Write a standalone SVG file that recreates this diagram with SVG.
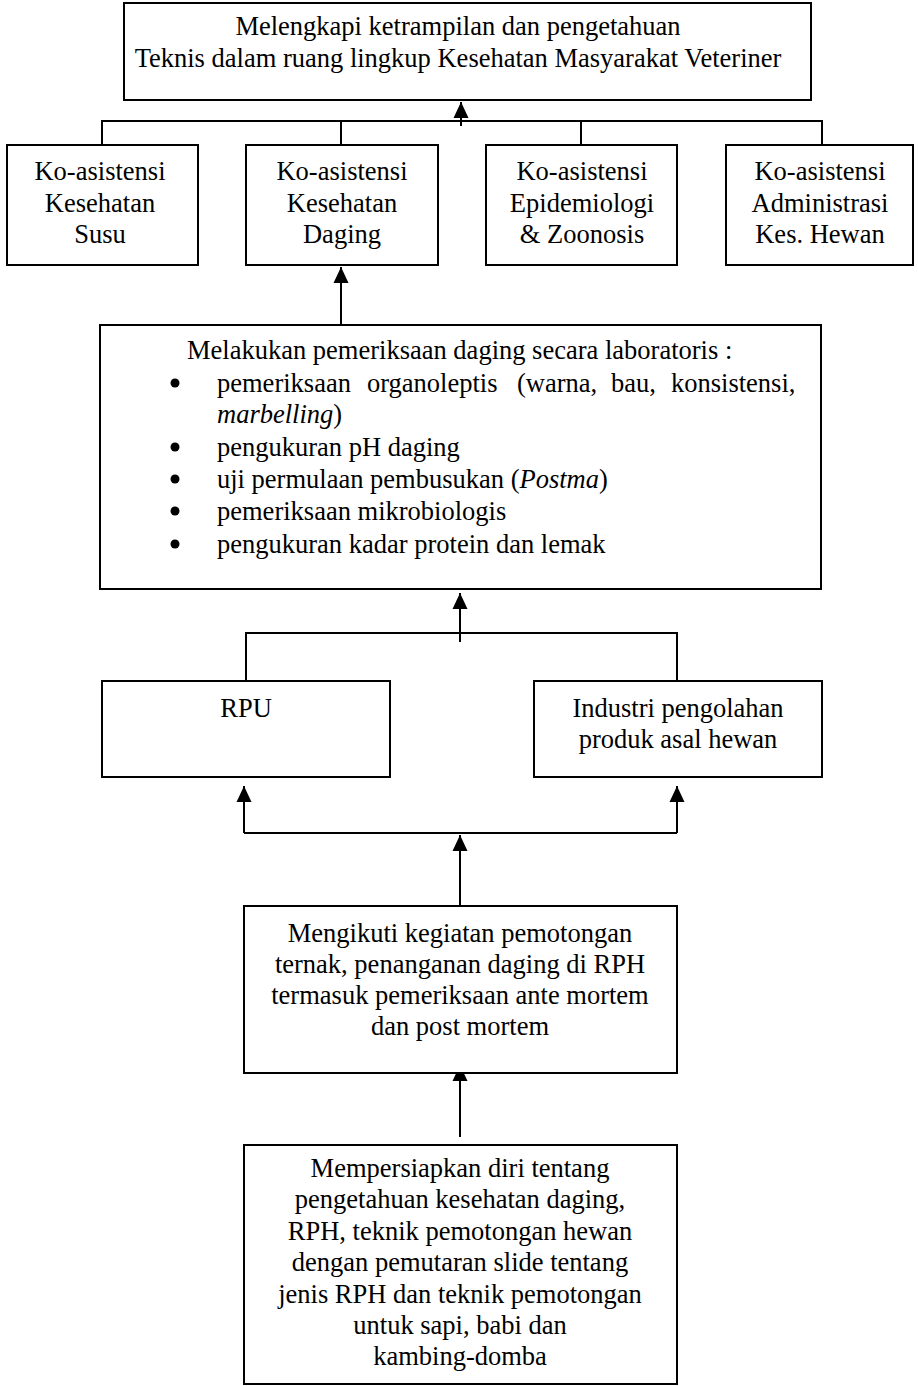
<svg xmlns="http://www.w3.org/2000/svg" width="918" height="1386" viewBox="0 0 918 1386">
<style>
.box{fill:#fff;stroke:#000;stroke-width:2}
.t{font-family:"Liberation Serif","Times New Roman",serif;font-size:26.5px;fill:#000}
.c{text-anchor:middle}
.ln{fill:none;stroke:#000;stroke-width:2}
.ar{fill:none;stroke:#000;stroke-width:2;marker-end:url(#ah)}
</style>
<defs>
<marker id="ah" markerUnits="userSpaceOnUse" markerWidth="16" markerHeight="16" refX="16" refY="8" orient="auto" viewBox="0 0 16 16">
<path d="M0,0.5 L16,8 L0,15.5 z" fill="#000"/>
</marker>
</defs>
<rect width="918" height="1386" fill="#fff"/>
<g id="connectors">
<path class="ln" d="M102,144 V121 H822 V144 M341,121 V144 M581,121 V144"/>
<line class="ar" x1="461" y1="126" x2="461" y2="102"/>
<line class="ar" x1="341" y1="325" x2="341" y2="267"/>
<path class="ln" d="M246,681 V633 H677 V681"/>
<line class="ar" x1="460" y1="642" x2="460" y2="593"/>
<path class="ln" d="M244,833 H677"/>
<line class="ar" x1="244" y1="833" x2="244" y2="786"/>
<line class="ar" x1="677" y1="833" x2="677" y2="786"/>
<line class="ar" x1="460" y1="906" x2="460" y2="835"/>
<line class="ar" x1="460" y1="1137" x2="460" y2="1065"/>
</g>
<g id="goal">
<rect class="box" x="124" y="3" width="687" height="97"/>
<text class="t c" x="458" y="35">Melengkapi ketrampilan dan pengetahuan</text>
<text class="t c" x="458" y="67">Teknis dalam ruang lingkup Kesehatan Masyarakat Veteriner</text>
</g>
<g id="susu">
<rect class="box" x="7" y="145" width="191" height="120"/>
<text class="t c" x="100" y="180">Ko-asistensi</text>
<text class="t c" x="100" y="212">Kesehatan</text>
<text class="t c" x="100" y="243">Susu</text>
</g>
<g id="daging">
<rect class="box" x="246" y="145" width="192" height="120"/>
<text class="t c" x="342" y="180">Ko-asistensi</text>
<text class="t c" x="342" y="212">Kesehatan</text>
<text class="t c" x="342" y="243">Daging</text>
</g>
<g id="epidemiologi">
<rect class="box" x="486" y="145" width="191" height="120"/>
<text class="t c" x="582" y="180">Ko-asistensi</text>
<text class="t c" x="582" y="212">Epidemiologi</text>
<text class="t c" x="582" y="243">&amp; Zoonosis</text>
</g>
<g id="administrasi">
<rect class="box" x="726" y="145" width="187" height="120"/>
<text class="t c" x="820" y="180">Ko-asistensi</text>
<text class="t c" x="820" y="212">Administrasi</text>
<text class="t c" x="820" y="243">Kes. Hewan</text>
</g>
<g id="lab">
<rect class="box" x="100" y="325" width="721" height="264"/>
<text class="t" x="187" y="359">Melakukan pemeriksaan daging secara laboratoris :</text>
<circle cx="175" cy="383" r="4.5"/>
<text class="t" y="392"><tspan x="217">pemeriksaan</tspan><tspan x="367">organoleptis</tspan><tspan x="517">(warna,</tspan><tspan x="611">bau,</tspan><tspan x="671">konsistensi,</tspan></text>
<text class="t" x="217" y="423"><tspan font-style="italic">marbelling</tspan>)</text>
<circle cx="175" cy="447" r="4.5"/>
<text class="t" x="217" y="456">pengukuran pH daging</text>
<circle cx="175" cy="479" r="4.5"/>
<text class="t" x="217" y="488">uji permulaan pembusukan (<tspan font-style="italic">Postma</tspan>)</text>
<circle cx="175" cy="511" r="4.5"/>
<text class="t" x="217" y="520">pemeriksaan mikrobiologis</text>
<circle cx="175" cy="544" r="4.5"/>
<text class="t" x="217" y="553">pengukuran kadar protein dan lemak</text>
</g>
<g id="rpu">
<rect class="box" x="102" y="681" width="288" height="96"/>
<text class="t c" x="246" y="717">RPU</text>
</g>
<g id="industri">
<rect class="box" x="534" y="681" width="288" height="96"/>
<text class="t c" x="678" y="717">Industri pengolahan</text>
<text class="t c" x="678" y="748">produk asal hewan</text>
</g>
<g id="rph">
<rect class="box" x="244" y="906" width="433" height="167"/>
<text class="t c" x="460" y="942">Mengikuti kegiatan pemotongan</text>
<text class="t c" x="460" y="973">ternak, penanganan daging di RPH</text>
<text class="t c" x="460" y="1004">termasuk pemeriksaan ante mortem</text>
<text class="t c" x="460" y="1035">dan post mortem</text>
</g>
<g id="persiapan">
<rect class="box" x="244" y="1145" width="433" height="239"/>
<text class="t c" x="460" y="1177">Mempersiapkan diri tentang</text>
<text class="t c" x="460" y="1208">pengetahuan kesehatan daging,</text>
<text class="t c" x="460" y="1240">RPH, teknik pemotongan hewan</text>
<text class="t c" x="460" y="1271">dengan pemutaran slide tentang</text>
<text class="t c" x="460" y="1303">jenis RPH dan teknik pemotongan</text>
<text class="t c" x="460" y="1334">untuk sapi, babi dan</text>
<text class="t c" x="460" y="1365">kambing-domba</text>
</g>
</svg>
